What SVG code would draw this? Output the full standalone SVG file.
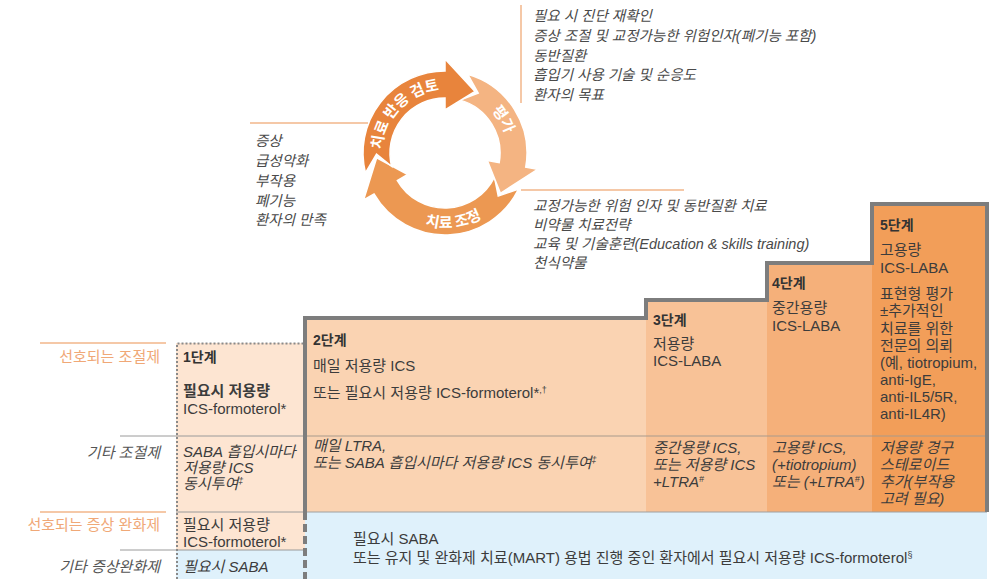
<svg xmlns="http://www.w3.org/2000/svg" width="993" height="579" viewBox="0 0 993 579">
<defs>
<style>
text{font-family:"Liberation Sans","Noto Sans CJK KR",sans-serif;fill:#3c3c3c;font-size:15px}
.lst{font-size:14.5px;font-style:italic;fill:#4a4a4a}
.h{font-weight:bold;font-size:14px;fill:#333}
.b{font-weight:bold}
.i{font-style:italic}
.or{fill:#f0a877}
.gl{fill:#555;font-style:italic}
.sup{font-size:9px}
.cyc{font-family:"Noto Sans CJK KR","Liberation Sans",sans-serif;font-weight:bold;font-size:15px;fill:#fff}
.ol{stroke:#f2b68a;stroke-width:1.5;fill:none}
.gr{stroke:#9a9a9a;stroke-width:1;fill:none}
.arw{stroke:#fff;stroke-width:1.5}
</style>
<path id="tpA" d="M382.15,157.39 A63,63 0 0 1 447.20,90.04"/>
<path id="tpB" d="M476.5,98.44 A63,63 0 0 1 508,153"/>
<path id="tpC" d="M387.55,201.21 A75,75 0 0 0 512.41,185.88"/>
</defs>
<rect width="993" height="579" fill="#fff"/>

<g id="cycle">
<path class="arw" fill="#ec9852" d="M518.70,188.95 A82,82 0 0 1 373.99,194 L363.59,200 L376.67,157.78 L407.76,174.5 L397.37,180.5 A55,55 0 0 0 494.43,177.11 L498.23,196.11 Z"/>
<path class="arw" fill="#f4b482" d="M467.60,74.17 A82,82 0 0 1 525.75,167.24 L537.57,169.32 L500.42,193.26 L487.35,160.47 L499.17,162.55 A55,55 0 0 0 460.16,100.13 L478.21,93.09 Z"/>
<path class="arw" fill="#e8843c" d="M365.44,172.84 A82,82 0 0 1 445,71 L445,59 L475.03,91.43 L445,110 L445,98 A55,55 0 0 0 391.63,166.31 L376.51,154.20 Z"/>
<text class="cyc"><textPath href="#tpA" startOffset="50%" text-anchor="middle">치료 반응 검토</textPath></text>
<text class="cyc"><textPath href="#tpB" startOffset="50%" text-anchor="middle">평가</textPath></text>
<text class="cyc"><textPath href="#tpC" startOffset="50%" text-anchor="middle">치료 조정</textPath></text>
</g>

<g id="connectors">
<line class="ol" x1="250" y1="123" x2="368" y2="123"/>
<line class="ol" x1="521" y1="5" x2="521" y2="103"/>
<line class="ol" x1="521" y1="190" x2="684" y2="190"/>
<line class="ol" x1="40" y1="343" x2="166" y2="343"/>
<line class="ol" x1="40" y1="512" x2="166" y2="512"/>
<line class="gr" x1="120" y1="436" x2="176" y2="436"/>
<line class="gr" x1="120" y1="550" x2="176" y2="550"/>
</g>

<g id="list-review">
<text class="lst" x="255" y="145.5">증상</text>
<text class="lst" x="255" y="165.5">급성악화</text>
<text class="lst" x="255" y="185.5">부작용</text>
<text class="lst" x="255" y="205.5">폐기능</text>
<text class="lst" x="255" y="224.5">환자의 만족</text>
</g>
<g id="list-assess">
<text class="lst" x="533" y="21">필요 시 진단 재확인</text>
<text class="lst" x="533" y="41">증상 조절 및 교정가능한 위험인자(폐기능 포함)</text>
<text class="lst" x="533" y="61">동반질환</text>
<text class="lst" x="533" y="80">흡입기 사용 기술 및 순응도</text>
<text class="lst" x="533" y="100">환자의 목표</text>
</g>
<g id="list-adjust">
<text class="lst" x="533" y="211">교정가능한 위험 인자 및 동반질환 치료</text>
<text class="lst" x="533" y="230">비약물 치료전략</text>
<text class="lst" x="533" y="249">교육 및 기술훈련(Education &amp; skills training)</text>
<text class="lst" x="533" y="268">천식약물</text>
</g>

<g id="row-labels" text-anchor="end">
<text class="or" x="160" y="361.5">선호되는 조절제</text>
<text class="gl" x="160" y="457.5">기타 조절제</text>
<text class="or" x="160" y="529.5">선호되는 증상 완화제</text>
<text class="gl" x="160" y="571.5">기타 증상완화제</text>
</g>

<g id="step1">
<rect x="176" y="343" width="129" height="207" fill="#fde5d2"/>
<rect x="176" y="550" width="129" height="29" fill="#dff1fb"/>
<line class="gr" x1="176" y1="436" x2="305" y2="436"/>
<line class="gr" x1="176" y1="512" x2="305" y2="512"/>
<line class="gr" x1="176" y1="550" x2="305" y2="550"/>
<path d="M177,579 V343.5 H305" fill="none" stroke="#8a8a8a" stroke-width="2" stroke-dasharray="2,2"/>
<text class="h" x="183" y="361.5">1단계</text>
<text class="b" x="183" y="395.5">필요시 저용량</text>
<text x="183" y="413.5">ICS-formoterol*</text>
<text class="i" x="183" y="456.5">SABA 흡입시마다</text>
<text class="i" x="183" y="472.5">저용량 ICS</text>
<text class="i" x="183" y="488.5">동시투여<tspan class="sup" dy="-5">‡</tspan></text>
<text x="183" y="529.5">필요시 저용량</text>
<text x="183" y="546.5">ICS-formoterol*</text>
<text class="i" x="183" y="571.5">필요시 SABA</text>
</g>

<g id="step2">
<rect x="305" y="318" width="341" height="194" fill="#fad3b2"/>
<text class="h" x="313" y="344.5">2단계</text>
<text x="313" y="370.5">매일 저용량 ICS</text>
<text x="313" y="397.5">또는 필요시 저용량 ICS-formoterol*<tspan class="sup" dy="-5">,†</tspan></text>
<text class="i" x="313" y="450.5">매일 LTRA,</text>
<text class="i" x="313" y="467.5">또는 SABA 흡입시마다 저용량 ICS 동시투여<tspan class="sup" dy="-5">‡</tspan></text>
</g>

<g id="step3">
<rect x="646" y="300" width="121" height="212" fill="#f8c297"/>
<text class="h" x="653" y="324.5">3단계</text>
<text x="653" y="348.5">저용량</text>
<text x="653" y="365.5">ICS-LABA</text>
<text class="i" x="653" y="452.5">중간용량 ICS,</text>
<text class="i" x="653" y="469.5">또는 저용량 ICS</text>
<text class="i" x="653" y="486.5">+LTRA<tspan class="sup" dy="-5">#</tspan></text>
</g>

<g id="step4">
<rect x="767" y="263" width="105" height="249" fill="#f5b07a"/>
<text class="h" x="772" y="287.5">4단계</text>
<text x="772" y="312.5">중간용량</text>
<text x="772" y="330.5">ICS-LABA</text>
<text class="i" x="772" y="452.5">고용량 ICS,</text>
<text class="i" x="772" y="469.5">(+tiotropium)</text>
<text class="i" x="772" y="486.5">또는 (+LTRA<tspan class="sup" dy="-5">#</tspan><tspan dy="5">)</tspan></text>
</g>

<g id="step5">
<rect x="872" y="204" width="115" height="308" fill="#f29e59"/>
<text class="h" x="880" y="229.5">5단계</text>
<text x="880" y="254.5">고용량</text>
<text x="880" y="272.5">ICS-LABA</text>
<text x="880" y="298.5">표현형 평가</text>
<text x="880" y="316">±추가적인</text>
<text x="880" y="333.5">치료를 위한</text>
<text x="880" y="351">전문의 의뢰</text>
<text x="880" y="368">(예, tiotropium,</text>
<text x="880" y="385">anti-IgE,</text>
<text x="880" y="402">anti-IL5/5R,</text>
<text x="880" y="419">anti-IL4R)</text>
<text class="i" x="880" y="452.5">저용량 경구</text>
<text class="i" x="880" y="469.5">스테로이드</text>
<text class="i" x="880" y="486.5">추가(부작용</text>
<text class="i" x="880" y="503.5">고려 필요)</text>
</g>

<g id="reliever">
<rect x="305" y="512" width="682" height="67" fill="#dff1fb"/>
<text x="353" y="543.5">필요시 SABA</text>
<text x="353" y="562.5">또는 유지 및 완화제 치료(MART) 용법 진행 중인 환자에서 필요시 저용량 ICS-formoterol<tspan class="sup" dy="-5">§</tspan></text>
</g>

<g id="frame">
<line x1="305" y1="436" x2="987" y2="436" stroke="#a89a8c" stroke-width="1"/>
<line x1="305" y1="512" x2="987" y2="512" stroke="#a0a0a0" stroke-width="1"/>
<path d="M305,512 V318 H646 V300 H767 V263 H872 V204 H987 V512" fill="none" stroke="#7d7d7d" stroke-width="4"/>
<path d="M305,512 V579" fill="none" stroke="#7d7d7d" stroke-width="4" stroke-dasharray="8,4"/>
</g>
</svg>
